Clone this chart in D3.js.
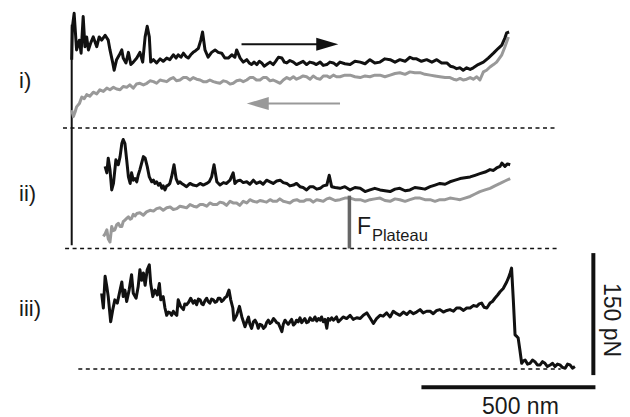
<!DOCTYPE html>
<html>
<head>
<meta charset="utf-8">
<script src="https://cdn.jsdelivr.net/npm/d3@7/dist/d3.min.js"></script>
<style>
  html, body { margin: 0; padding: 0; background: #fff; }
  svg { display: block; }
  text { font-family: "Liberation Sans", Arial, sans-serif; fill: #1a1a1a; }
</style>
</head>
<body>
<svg id="chart" width="630" height="417"></svg>
<script>
// ---------- DATA (extension in nm, force in pN) ----------
const panelLabels = ["i)", "ii)", "iii)"];
const scaleBarX = { label: "500 nm", length: 500 };
const scaleBarY = { label: "150 pN", length: 150 };
const plateauLabel = ["F", "Plateau"];

// panel i) — extension (black) and retraction (gray)
const blackI = [[0,84],[2,124],[7,141],[14,96],[22,108],[27,92],[33,137],[38,100],[43,112],[48,96],[55,105],[62,112],[72,100],[79,112],[86,108],[96,114],[105,108],[110,96],[118,80],[122,71],[129,84],[137,90],[144,96],[148,86],[156,80],[163,93],[170,78],[177,81],[187,86],[196,93],[204,81],[211,112],[217,125],[223,112],[227,81],[235,84],[244,80],[254,85],[263,82],[273,86],[282,84],[292,90],[300,86],[306,90],[314,87],[321,92],[328,88],[335,86],[342,90],[349,93],[356,95],[364,98],[371,108],[376,118],[383,96],[392,87],[402,93],[412,96],[421,93],[431,92],[440,86],[450,86],[460,90],[469,87],[474,96],[484,86],[493,81],[503,84],[510,80],[517,78],[524,81],[532,78],[539,82],[546,80],[553,76],[560,78],[570,81],[579,78],[586,82],[594,87],[604,86],[611,81],[618,80],[627,83],[637,81],[646,78],[656,80],[665,82],[675,78],[684,81],[694,80],[703,78],[714,81],[723,77],[733,78],[742,81],[752,80],[761,77],[771,81],[785,79],[800,78],[814,82],[829,81],[843,79],[857,84],[871,80],[886,81],[900,85],[915,84],[929,81],[943,84],[958,82],[972,87],[982,85],[991,85],[1005,82],[1020,84],[1035,81],[1049,84],[1063,80],[1078,80],[1088,76],[1097,75],[1106,73],[1116,74],[1125,71],[1135,74],[1145,72],[1154,74],[1168,78],[1183,81],[1197,86],[1212,92],[1226,98],[1236,102],[1245,111],[1250,117],[1257,118]];
const grayI = [[0,22],[5,14],[10,20],[14,26],[22,30],[29,38],[36,36],[43,41],[52,39],[62,44],[72,42],[81,47],[91,45],[101,49],[110,47],[120,50],[129,48],[139,47],[148,51],[158,50],[167,53],[177,49],[186,54],[196,55],[206,53],[216,55],[225,58],[235,57],[244,55],[254,59],[263,58],[273,57],[282,60],[292,62],[301,58],[311,59],[321,62],[330,62],[340,59],[349,62],[359,60],[369,59],[378,57],[388,57],[397,59],[407,57],[416,56],[426,55],[436,58],[445,57],[455,54],[464,55],[474,58],[484,59],[493,57],[503,59],[512,62],[522,62],[531,59],[541,59],[550,62],[560,62],[570,58],[579,59],[589,57],[599,55],[608,59],[618,62],[627,60],[637,63],[646,60],[656,62],[665,64],[675,63],[685,60],[694,64],[704,61],[714,60],[723,64],[733,64],[742,62],[752,65],[761,63],[771,63],[785,65],[800,65],[814,63],[829,62],[843,64],[857,63],[871,65],[886,65],[900,63],[915,65],[929,67],[943,68],[958,66],[972,69],[986,68],[1001,68],[1015,66],[1030,65],[1044,64],[1058,63],[1073,62],[1087,62],[1097,60],[1106,59],[1116,61],[1125,59],[1135,60],[1145,62],[1154,60],[1164,63],[1173,59],[1183,69],[1192,71],[1202,75],[1212,78],[1221,81],[1236,90],[1245,100],[1255,112]];

// panel ii)
const blackII = [[96,101],[101,93],[105,111],[110,97],[115,72],[120,80],[127,109],[134,103],[139,113],[144,129],[148,134],[153,129],[158,109],[163,88],[168,80],[172,93],[177,84],[182,86],[187,82],[191,90],[196,97],[201,105],[206,113],[211,111],[217,101],[223,88],[230,82],[235,84],[239,80],[244,82],[249,78],[254,80],[259,74],[263,77],[268,72],[273,77],[278,78],[282,80],[287,88],[294,103],[300,86],[306,80],[311,82],[316,80],[323,78],[330,76],[340,80],[349,78],[359,77],[369,80],[378,78],[388,80],[395,82],[402,88],[409,103],[417,82],[426,78],[436,81],[445,80],[455,84],[464,93],[469,80],[476,83],[484,84],[493,81],[503,82],[512,79],[522,84],[531,80],[541,82],[550,79],[560,84],[570,82],[579,80],[589,83],[599,84],[608,81],[618,80],[627,77],[637,78],[646,80],[656,76],[665,75],[675,72],[685,76],[694,76],[704,73],[714,74],[723,77],[733,78],[740,90],[747,76],[757,75],[771,74],[785,76],[800,72],[814,75],[829,74],[843,70],[857,72],[871,74],[886,72],[900,71],[915,70],[929,73],[943,74],[958,71],[972,72],[986,75],[1001,74],[1015,73],[1030,76],[1044,78],[1058,80],[1073,79],[1087,82],[1102,84],[1116,86],[1130,87],[1145,88],[1159,90],[1173,92],[1188,94],[1202,97],[1212,96],[1221,99],[1231,101],[1236,105],[1245,101],[1252,104],[1260,103]];
const grayII = [[91,15],[96,18],[101,23],[105,12],[110,8],[115,27],[119,22],[124,23],[129,29],[134,31],[139,27],[144,27],[148,33],[153,35],[158,37],[163,39],[168,36],[172,37],[177,42],[182,40],[187,43],[196,44],[206,41],[215,45],[225,47],[235,46],[244,49],[254,50],[263,47],[273,50],[283,51],[292,48],[302,49],[311,52],[321,51],[330,50],[340,54],[350,52],[359,51],[369,54],[378,54],[388,52],[397,56],[407,54],[417,54],[426,57],[436,56],[445,53],[455,58],[464,56],[474,56],[483,53],[493,58],[503,56],[512,60],[522,58],[532,57],[541,59],[551,58],[560,57],[570,60],[579,58],[589,58],[598,61],[608,58],[618,57],[627,56],[637,59],[647,60],[656,58],[666,58],[675,60],[685,60],[694,57],[704,60],[714,59],[723,58],[733,61],[742,62],[757,59],[771,60],[785,62],[800,62],[814,60],[829,60],[843,58],[857,60],[871,61],[886,62],[900,59],[915,58],[929,61],[943,60],[958,58],[972,60],[986,62],[1001,62],[1015,60],[1030,60],[1044,58],[1058,60],[1073,60],[1087,62],[1102,61],[1116,60],[1130,62],[1145,64],[1159,67],[1173,70],[1188,72],[1202,74],[1216,77],[1231,80],[1245,83],[1260,86]];

// panel iii)
const blackIII = [[86,93],[91,75],[96,114],[101,101],[105,89],[112,58],[118,73],[124,85],[131,81],[137,93],[144,107],[148,89],[153,97],[158,83],[165,97],[172,116],[177,93],[185,87],[191,101],[196,122],[201,109],[206,118],[211,103],[217,122],[223,128],[227,105],[233,89],[239,97],[246,91],[252,105],[256,85],[263,89],[268,75],[273,66],[278,70],[283,69],[287,66],[292,71],[297,68],[302,66],[306,85],[313,77],[321,73],[325,80],[330,79],[336,82],[342,87],[349,81],[354,84],[359,79],[364,86],[369,85],[374,80],[378,79],[383,84],[388,87],[392,83],[397,81],[402,86],[407,85],[412,82],[417,83],[421,87],[426,87],[431,83],[436,85],[441,88],[445,89],[452,97],[457,85],[463,75],[466,60],[474,66],[482,77],[489,64],[498,52],[503,58],[508,64],[512,55],[517,50],[522,58],[527,60],[532,56],[536,50],[541,55],[546,54],[551,50],[556,52],[560,57],[565,60],[570,56],[575,58],[580,62],[584,60],[589,57],[594,56],[599,51],[604,46],[608,55],[613,60],[618,57],[622,55],[627,58],[632,61],[637,54],[642,56],[646,60],[651,58],[656,63],[661,57],[666,60],[670,62],[675,57],[680,58],[685,63],[690,60],[694,60],[699,64],[704,59],[709,62],[714,60],[718,64],[723,58],[728,61],[733,50],[737,62],[742,60],[747,63],[752,60],[757,62],[761,64],[766,58],[771,60],[780,64],[790,62],[800,66],[809,61],[819,63],[829,62],[838,66],[848,69],[857,63],[867,56],[876,62],[886,66],[895,65],[905,69],[915,64],[924,71],[934,68],[943,66],[953,70],[963,67],[972,71],[982,68],[991,70],[1001,73],[1010,69],[1020,71],[1030,71],[1039,68],[1049,72],[1058,73],[1068,70],[1078,72],[1087,73],[1097,71],[1106,75],[1116,75],[1126,72],[1135,75],[1145,75],[1154,78],[1164,77],[1171,80],[1178,81],[1185,76],[1193,75],[1202,81],[1209,83],[1216,87],[1224,91],[1231,95],[1240,99],[1245,103],[1250,107],[1255,112],[1260,118],[1264,124],[1269,85],[1274,42],[1279,40],[1283,38],[1288,23],[1293,7],[1298,10],[1303,11],[1310,6],[1317,7],[1324,11],[1331,9],[1338,5],[1346,5],[1353,9],[1360,7],[1367,3],[1375,5],[1382,7],[1389,3],[1396,6],[1403,5],[1410,2],[1418,1],[1425,6],[1432,5],[1439,1],[1446,3]];

// contact (approach) segment shared by panels i and ii, in nm / pN
const contactLine = { x: 0, topForceI: 127, bottomForceII: 4 };
// plateau force marker (panel ii)
const plateauMarker = { x: 798, force: 65 };
// direction arrows (panel i)
const arrowExtend = { from: 488, to: 766, force: 103 };
const arrowRetract = { from: 771, to: 503, force: 30 };
// baselines (zero force) extents in nm
const baselineExtent = [[-25, 1395], [-19, 1403], [19, 1405]];
// scale bars, in nm / pN (panel iii coordinates)
const scaleBarXPos = { start: 1005, force: -22.5 };
const scaleBarYPos = { x: 1499, start: -7.5 };

// ---------- DRAWING ----------
const svg = d3.select("#chart");
const x = d3.scaleLinear().domain([0, 500]).range([71.7, 71.7 + 174]);
const baselinesPx = [128, 248.5, 369];
const pxPer150 = 122;
const y = baselinesPx.map(b => d3.scaleLinear().domain([0, 150]).range([b, b - pxPer150]));

const black = "#111";
const gray = "#999";

const line = ys => d3.line().x(d => x(d[0])).y(d => ys(d[1])).curve(d3.curveLinear);

// baselines (dashed)
baselineExtent.forEach((ext, i) => {
  svg.append("line")
    .attr("x1", x(ext[0])).attr("x2", x(ext[1]))
    .attr("y1", y[i](0)).attr("y2", y[i](0))
    .attr("stroke", black).attr("stroke-width", 1.6)
    .attr("stroke-dasharray", "4,3.5");
});

// contact line
svg.append("line")
  .attr("x1", x(contactLine.x)).attr("x2", x(contactLine.x))
  .attr("y1", y[0](contactLine.topForceI)).attr("y2", y[1](contactLine.bottomForceII))
  .attr("stroke", black).attr("stroke-width", 2);

// traces
const traces = [
  { data: grayI, panel: 0, color: gray },
  { data: blackI, panel: 0, color: black },
  { data: grayII, panel: 1, color: gray },
  { data: blackII, panel: 1, color: black },
  { data: blackIII, panel: 2, color: black }
];
traces.forEach(t => {
  svg.append("path")
    .datum(t.data)
    .attr("d", line(y[t.panel]))
    .attr("fill", "none")
    .attr("stroke", t.color)
    .attr("stroke-width", 3)
    .attr("stroke-linejoin", "round");
});

// arrows
function arrow(a, ys, color) {
  const x1 = x(a.from), x2 = x(a.to), yy = ys(a.force);
  const dir = Math.sign(x2 - x1);
  const headLen = 22, headHalf = 6.5;
  svg.append("line")
    .attr("x1", x1).attr("x2", x2 - dir * headLen + dir * 2)
    .attr("y1", yy).attr("y2", yy)
    .attr("stroke", color).attr("stroke-width", 2);
  svg.append("path")
    .attr("d", `M${x2},${yy} L${x2 - dir * headLen},${yy - headHalf} L${x2 - dir * headLen},${yy + headHalf} Z`)
    .attr("fill", color);
}
arrow(arrowExtend, y[0], black);
arrow(arrowRetract, y[0], gray);

// plateau marker
svg.append("line")
  .attr("x1", x(plateauMarker.x)).attr("x2", x(plateauMarker.x))
  .attr("y1", y[1](0)).attr("y2", y[1](plateauMarker.force))
  .attr("stroke", "#666").attr("stroke-width", 3.5);
const fx = x(plateauMarker.x) + 7.5;
svg.append("text").attr("x", fx).attr("y", 233.5).attr("font-size", 23).text(plateauLabel[0]);
svg.append("text").attr("x", fx + 15).attr("y", 241).attr("font-size", 16.5).text(plateauLabel[1]);

// panel labels
const labelBaselines = [88, 201, 316];
panelLabels.forEach((l, i) => {
  svg.append("text").attr("x", 19).attr("y", labelBaselines[i]).attr("font-size", 22).text(l);
});

// scale bars
const sbx1 = x(scaleBarXPos.start), sbx2 = x(scaleBarXPos.start + scaleBarX.length);
const sby = y[2](scaleBarXPos.force);
svg.append("line").attr("x1", sbx1).attr("x2", sbx2).attr("y1", sby).attr("y2", sby)
  .attr("stroke", black).attr("stroke-width", 4);
svg.append("text").attr("x", (sbx1 + sbx2) / 2 + 12).attr("y", 413.5)
  .attr("text-anchor", "middle").attr("font-size", 23).text(scaleBarX.label);

const svx = x(scaleBarYPos.x);
const svy1 = y[2](scaleBarYPos.start), svy2 = y[2](scaleBarYPos.start + scaleBarY.length);
svg.append("line").attr("x1", svx).attr("x2", svx).attr("y1", svy1).attr("y2", svy2)
  .attr("stroke", black).attr("stroke-width", 4);
svg.append("text")
  .attr("transform", `translate(${svx + 11},${(svy1 + svy2) / 2 + 6}) rotate(90)`)
  .attr("text-anchor", "middle").attr("font-size", 23).text(scaleBarY.label);
</script>
</body>
</html>
